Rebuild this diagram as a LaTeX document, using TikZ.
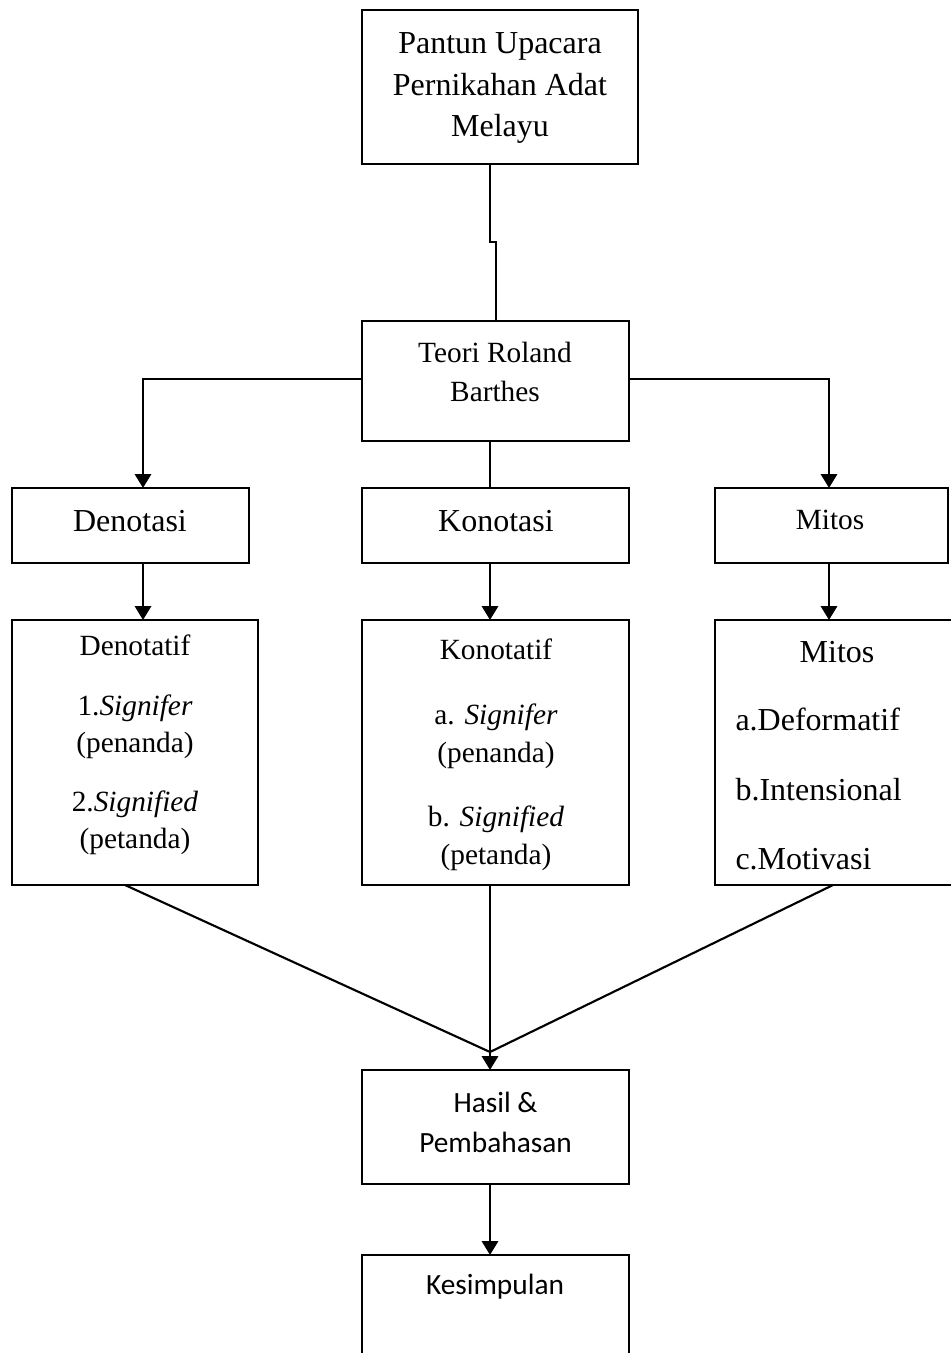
\documentclass[tikz,border=0pt]{standalone}
\usepackage{fontspec}
\setmainfont{Liberation Serif}
\newfontfamily\calibri{Carlito}
\usetikzlibrary{positioning}
\usetikzlibrary{arrows.meta}

\begin{document}
\begin{tikzpicture}[x=0.375pt, y=-0.375pt,
    box/.style 2 args={draw, line width=0.8pt, inner sep=0pt, outer sep=0pt,
        minimum width=#1*0.375pt, minimum height=#2*0.375pt},
    txt/.style={align=center, inner sep=0pt, font=\fontsize{11}{14.6}\selectfont},
    bigtxt/.style={align=center, inner sep=0pt, font=\fontsize{12}{15.6}\selectfont},
    line/.style={line width=0.8pt},
    arr/.style={line width=1.1pt, -{Triangle[length=5.2pt, width=6pt]}}]
    \useasboundingbox (0,0) rectangle (950,1353);
    %% kotak-kotak
    \node[box={276}{154}] (pantun) at (500,87) {};
    \node[box={267}{120}] (teori) at (495.5,381) {};
    \node[box={237}{75}] (denotasi) at (130.5,525.5) {};
    \node[box={267}{75}] (konotasi) at (495.5,525.5) {};
    \node[box={233}{75}] (mitos) at (831.5,525.5) {};
    \node[box={246}{265}] (denotatif) at (135,752.5) {};
    \node[box={267}{265}] (konotatif) at (495.5,752.5) {};
    \node[box={240}{265}] (mitosb) at (835,752.5) {};
    \node[box={267}{114}] (hasil) at (495.5,1127) {};
    \node[box={267}{150}] (kesimpulan) at (495.5,1330) {};
    % teks
    \node[bigtxt] (pantun-t) at (500,88) {Pantun Upacara\\Pernikahan Adat\\Melayu};
    \node[txt] (teori-t) at (495,372) {Teori Roland\\Barthes};
    \node[bigtxt] (denotasi-t) at (130,521) {Denotasi};
    \node[bigtxt] (konotasi-t) at (496,521) {Konotasi};
    \node[txt] (mitos-t) at (830,520) {Mitos};
    \node[txt, font=\fontsize{11}{14}\selectfont] (denotatif-t) at (135,745)
        {Denotatif\\[8.5pt]1.\textit{Signifer}\\(penanda)\\[8pt]2.\textit{Signified}\\(petanda)};
    \node[txt, font=\fontsize{11}{14.25}\selectfont] (konotatif-t) at (496,755)
        {Konotatif\\[10pt]a. \textit{Signifer}\\(penanda)\\[10pt]b. \textit{Signified}\\(petanda)};
    \node[bigtxt] (mitosb-t) at (837,652) {Mitos};
    \node[bigtxt, align=left, anchor=west, font=\fontsize{12}{25.9}\selectfont] (mitosb-l) at (735,789)
        {a.Deformatif\\b.Intensional\\c.Motivasi};
    \node[txt, font=\calibri\fontsize{11}{15}\selectfont] (hasil-t) at (495.5,1122) {Hasil \&\\Pembahasan};
    \node[txt, font=\calibri\fontsize{11}{15}\selectfont] (kesimpulan-t) at (495,1287) {Kesimpulan};
    % garis penghubung
    \draw[line] (pantun.south -| 490,0) -- (490,242) -- (496,242) -- (teori.north -| 496,0);
    \draw[arr] (teori.west |- 0,379) -| (denotasi.north -| 143,0);
    \draw[arr] (teori.east |- 0,379) -| (mitos.north -| 829,0);
    \draw[line] (teori.south -| 490,0) -- (konotasi.north -| 490,0);
    \draw[arr] (denotasi.south -| 143,0) -- (denotatif.north -| 143,0);
    \draw[arr] (konotasi.south -| 490,0) -- (konotatif.north -| 490,0);
    \draw[arr] (mitos.south -| 829,0) -- (mitosb.north -| 829,0);
    \coordinate (temu) at (490,1052);
    \draw[line] (denotatif.south -| 125,0) -- (temu);
    \draw[line] (mitosb.south -| 833,0) -- (temu);
    \draw[arr] (konotatif.south -| 490,0) -- (hasil.north -| 490,0);
    \draw[arr] (hasil.south -| 490,0) -- (kesimpulan.north -| 490,0);
\end{tikzpicture}
\end{document}
